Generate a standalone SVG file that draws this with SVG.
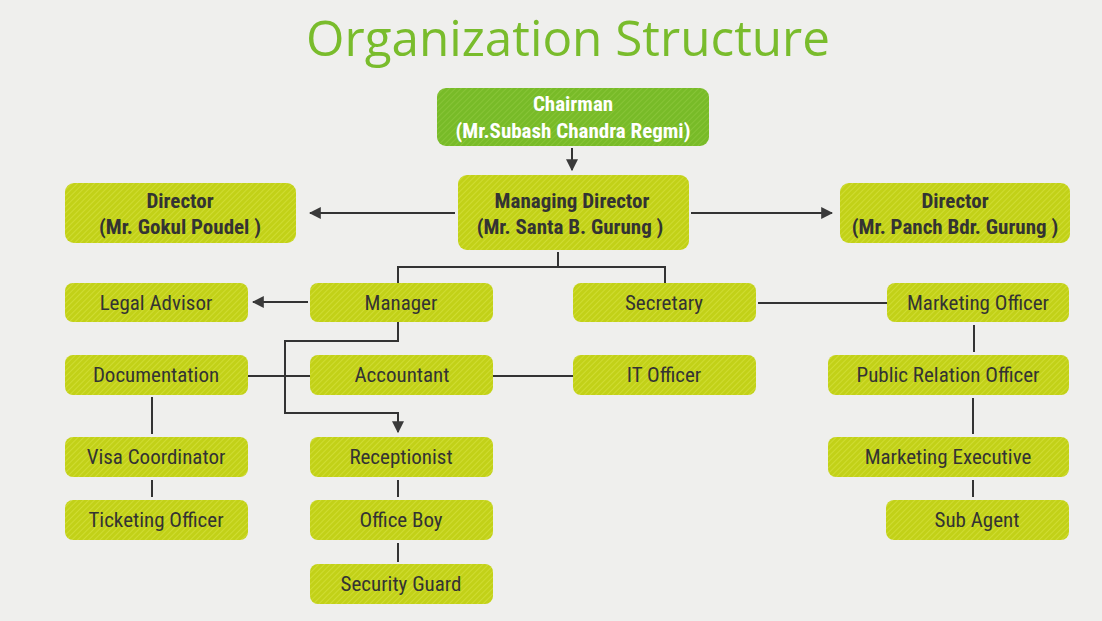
<svg xmlns="http://www.w3.org/2000/svg" width="1102" height="621" viewBox="0 0 1102 621">
<defs>
<pattern id="hatch" width="4" height="4" patternUnits="userSpaceOnUse" patternTransform="rotate(45)">
<rect width="4" height="4" fill="#c2d118"/>
<line x1="0" y1="0" x2="0" y2="4" stroke="#d4e03a" stroke-width="1.5"/>
</pattern>
<pattern id="hatch2" width="4" height="4" patternUnits="userSpaceOnUse" patternTransform="rotate(45)">
<rect width="4" height="4" fill="#78bb28"/>
<line x1="0" y1="0" x2="0" y2="4" stroke="#8cc83c" stroke-width="1.5"/>
</pattern>
<marker id="arrs" viewBox="0 0 10 10" refX="9" refY="5" markerWidth="12" markerHeight="12" orient="auto" markerUnits="userSpaceOnUse">
<path d="M0,0 L10,5 L0,10 z" fill="#3a3a3a"/>
</marker>
</defs>
<style>
.box{fill:url(#hatch);}
.cbox{fill:url(#hatch2);}
.t{font-family:"Liberation Sans Narrow","Roboto Condensed","Liberation Sans",sans-serif;font-size:21px;fill:#333;text-anchor:middle;}
.b{font-weight:bold;}
.w{fill:#ffffff;}
.ln{stroke:#333;stroke-width:2;fill:none;}
.title{font-family:"Open Sans","Liberation Sans",sans-serif;font-weight:400;font-size:50px;fill:#79bc2c;text-anchor:middle;}
</style>
<rect width="1102" height="621" fill="#efefed"/>
<text class="title" x="568" y="56" textLength="524" lengthAdjust="spacingAndGlyphs">Organization Structure</text>

<g id="connectors">
<line class="ln" x1="572" y1="148" x2="572" y2="170" marker-end="url(#arrs)"/>
<line class="ln" x1="455" y1="213" x2="310" y2="213" marker-end="url(#arrs)"/>
<line class="ln" x1="691" y1="213" x2="832" y2="213" marker-end="url(#arrs)"/>
<polyline class="ln" points="558,252 558,267"/>
<polyline class="ln" points="398,283 398,267 665,267 665,283"/>
<line class="ln" x1="308" y1="302" x2="253" y2="302" marker-end="url(#arrs)"/>
<line class="ln" x1="758" y1="303" x2="887" y2="303"/>
<polyline class="ln" points="398,322 398,341 285,341 285,413 398,413 398,432" marker-end="url(#arrs)"/>
<line class="ln" x1="248" y1="376" x2="310" y2="376"/>
<line class="ln" x1="493" y1="376" x2="573" y2="376"/>
<line class="ln" x1="152" y1="397" x2="152" y2="434"/>
<line class="ln" x1="152" y1="480" x2="152" y2="497"/>
<line class="ln" x1="398" y1="480" x2="398" y2="497"/>
<line class="ln" x1="398" y1="543" x2="398" y2="562"/>
<line class="ln" x1="974" y1="325" x2="974" y2="352"/>
<line class="ln" x1="973" y1="398" x2="973" y2="434"/>
<line class="ln" x1="973" y1="480" x2="973" y2="497"/>
</g>

<g id="chairman">
<rect class="cbox" x="437" y="88" width="272" height="58" rx="9"/>
<text class="t b w" x="573" y="111">Chairman</text>
<text class="t b w" x="573" y="138">(Mr.Subash Chandra Regmi)</text>
</g>
<g id="managing-director">
<rect class="box" x="458" y="175" width="231" height="75" rx="9"/>
<text class="t b" x="572" y="208">Managing Director</text>
<text class="t b" x="570" y="234">(Mr. Santa B. Gurung )</text>
</g>
<g id="director-left">
<rect class="box" x="65" y="183" width="231" height="60" rx="9"/>
<text class="t b" x="180" y="208">Director</text>
<text class="t b" x="180" y="234">(Mr. Gokul Poudel )</text>
</g>
<g id="director-right">
<rect class="box" x="840" y="183" width="230" height="60" rx="9"/>
<text class="t b" x="955" y="208">Director</text>
<text class="t b" x="955" y="234">(Mr. Panch Bdr. Gurung )</text>
</g>
<g id="legal-advisor">
<rect class="box" x="65" y="283" width="183" height="39" rx="8"/>
<text class="t" x="156" y="310">Legal Advisor</text>
</g>
<g id="manager">
<rect class="box" x="310" y="283" width="183" height="39" rx="8"/>
<text class="t" x="401" y="310">Manager</text>
</g>
<g id="secretary">
<rect class="box" x="573" y="283" width="183" height="39" rx="8"/>
<text class="t" x="664" y="310">Secretary</text>
</g>
<g id="marketing-officer">
<rect class="box" x="887" y="283" width="182" height="39" rx="8"/>
<text class="t" x="978" y="310">Marketing Officer</text>
</g>
<g id="documentation">
<rect class="box" x="65" y="355" width="183" height="40" rx="8"/>
<text class="t" x="156" y="382">Documentation</text>
</g>
<g id="accountant">
<rect class="box" x="310" y="355" width="183" height="40" rx="8"/>
<text class="t" x="402" y="382">Accountant</text>
</g>
<g id="it-officer">
<rect class="box" x="573" y="355" width="183" height="40" rx="8"/>
<text class="t" x="664" y="382">IT Officer</text>
</g>
<g id="public-relation-officer">
<rect class="box" x="828" y="355" width="241" height="40" rx="8"/>
<text class="t" x="948" y="382">Public Relation Officer</text>
</g>
<g id="visa-coordinator">
<rect class="box" x="65" y="437" width="183" height="40" rx="8"/>
<text class="t" x="156" y="464">Visa Coordinator</text>
</g>
<g id="receptionist">
<rect class="box" x="310" y="437" width="183" height="40" rx="8"/>
<text class="t" x="401" y="464">Receptionist</text>
</g>
<g id="marketing-executive">
<rect class="box" x="828" y="437" width="241" height="40" rx="8"/>
<text class="t" x="948" y="464">Marketing Executive</text>
</g>
<g id="ticketing-officer">
<rect class="box" x="65" y="500" width="183" height="40" rx="8"/>
<text class="t" x="156" y="527">Ticketing Officer</text>
</g>
<g id="office-boy">
<rect class="box" x="310" y="500" width="183" height="40" rx="8"/>
<text class="t" x="401" y="527">Office Boy</text>
</g>
<g id="sub-agent">
<rect class="box" x="886" y="500" width="183" height="40" rx="8"/>
<text class="t" x="977" y="527">Sub Agent</text>
</g>
<g id="security-guard">
<rect class="box" x="310" y="564" width="183" height="40" rx="8"/>
<text class="t" x="401" y="591">Security Guard</text>
</g>
</svg>
